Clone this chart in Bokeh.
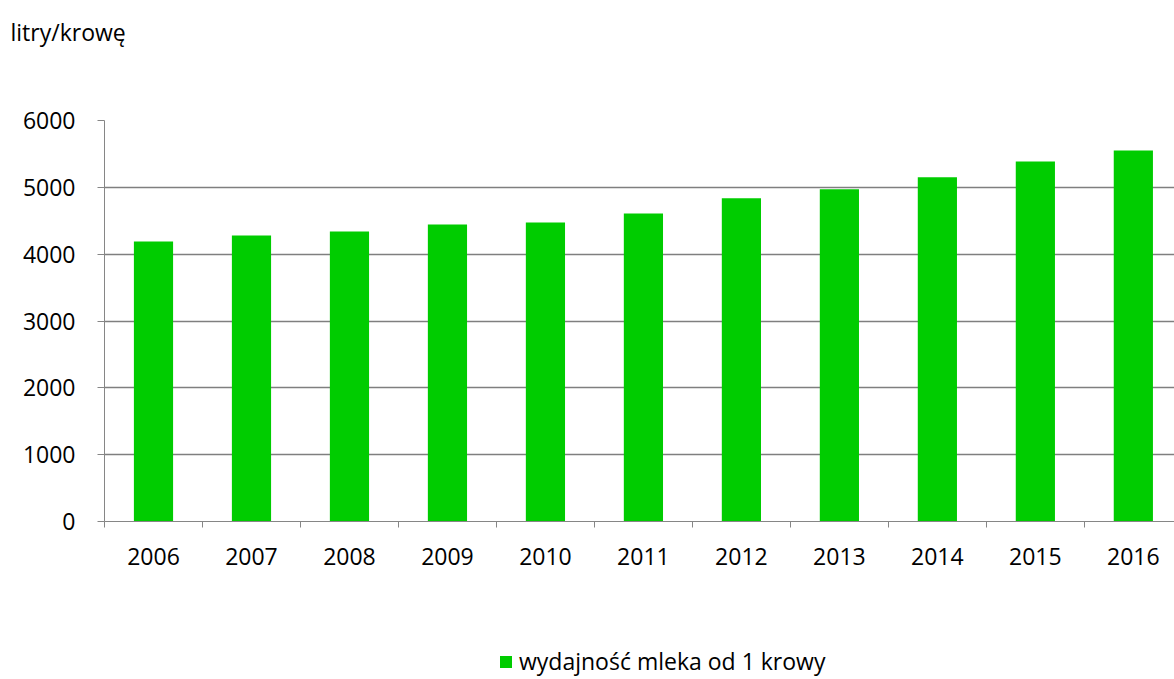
from bokeh.plotting import figure
from bokeh.layouts import column
from bokeh.models import Range1d, FixedTicker, Legend, LegendItem
from bokeh.embed import file_html
from bokeh.resources import INLINE

years = ["2006", "2007", "2008", "2009", "2010", "2011", "2012", "2013", "2014", "2015", "2016"]
milk_yield = [4190, 4280, 4340, 4445, 4475, 4610, 4835, 4970, 5150, 5385, 5550]
y_ticks = [0, 1000, 2000, 3000, 4000, 5000, 6000]
unit_label = "litry/krowę"
series_name = "wydajność mleka od 1 krowy"

FONT = "Open Sans"
GRAY = "#868686"
GREEN = "#00CC00"

centers = [i + 0.5 for i in range(len(years))]
bounds = list(range(len(years) + 1))


def strip(height, **kw):
    f = figure(width=1174, height=height, output_backend="svg", toolbar_location=None,
               x_axis_type=None, y_axis_type=None, x_range=Range1d(0, 1), y_range=Range1d(0, 1),
               min_border_left=104, min_border_right=0, **kw)
    f.outline_line_color = None
    f.xgrid.visible = False
    f.ygrid.visible = False
    return f


# header strip with the unit label
hf = strip(64, min_border_top=52, min_border_bottom=0)
hf.title.text = unit_label
hf.title.align = "left"
hf.title.offset = -94
hf.title.text_font = FONT
hf.title.text_font_size = "23px"
hf.title.text_font_style = "normal"
hf.title.text_color = "black"

# main chart
p = figure(width=1174, height=536, output_backend="svg", toolbar_location=None,
           x_range=Range1d(0, 10.92), y_range=Range1d(0, 6000),
           min_border_left=104, min_border_right=0, min_border_top=56, min_border_bottom=79)
p.outline_line_color = None
p.background_fill_color = "white"
p.border_fill_color = "white"

r = p.vbar(x=centers, top=milk_yield, width=0.4, fill_color=GREEN, line_color=None)

xa = p.xaxis[0]
xa.ticker = FixedTicker(ticks=centers, minor_ticks=bounds)
xa.major_label_overrides = {c: y for c, y in zip(centers, years)}
xa.major_tick_out = 0
xa.major_tick_in = 0
xa.minor_tick_out = 6
xa.minor_tick_in = 0
xa.minor_tick_line_color = GRAY
xa.axis_line_color = GRAY
xa.major_label_text_font = FONT
xa.major_label_text_font_size = "23px"
xa.major_label_text_color = "black"
xa.major_label_standoff = 20

ya = p.yaxis[0]
ya.ticker = FixedTicker(ticks=y_ticks)
ya.major_tick_out = 7
ya.major_tick_in = 0
ya.minor_tick_line_color = None
ya.major_tick_line_color = GRAY
ya.axis_line_color = GRAY
ya.major_label_text_font = FONT
ya.major_label_text_font_size = "23px"
ya.major_label_text_color = "black"
ya.major_label_standoff = 22

p.xgrid.visible = False
p.ygrid.ticker = FixedTicker(ticks=y_ticks)
p.ygrid.grid_line_color = "#7f7f7f"
p.ygrid.grid_line_width = 1.3

# legend strip below the chart (proxy glyph lies outside the visible range)
lf = strip(78, min_border_top=0, min_border_bottom=0)
lr = lf.vbar(x=[2], top=[1], width=0.4, fill_color=GREEN, line_color=None)
legend = Legend(items=[LegendItem(label=series_name, renderers=[lr])],
                location=(394, 1), orientation="horizontal",
                padding=0, margin=0, border_line_color=None, background_fill_alpha=0,
                glyph_width=15, glyph_height=15, label_standoff=6,
                label_text_font=FONT, label_text_font_size="23px", label_text_color="black")
lf.add_layout(legend)

layout = column(hf, p, lf, spacing=0)
open("out.html", "w").write(file_html(layout, INLINE))
